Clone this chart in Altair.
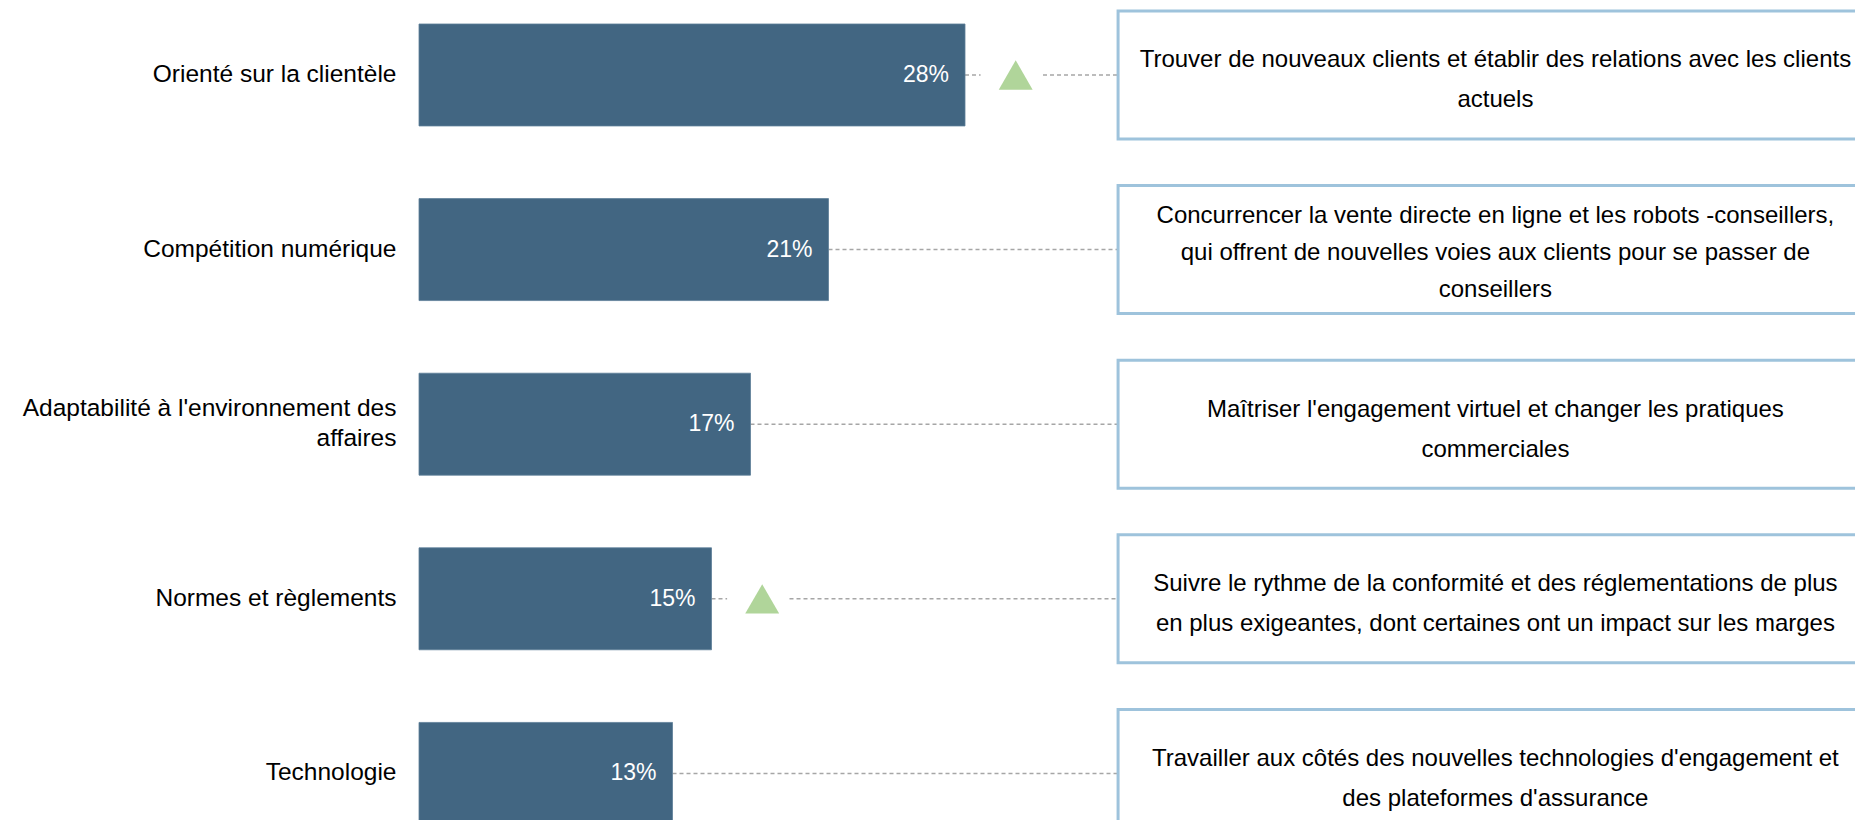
import altair as alt
import pandas as pd

# ---- data ----
categories = [
    "Orienté sur la clientèle",
    "Compétition numérique",
    "Adaptabilité à l'environnement des\naffaires",
    "Normes et règlements",
    "Technologie",
]
values = [28, 21, 17, 15, 13]
trend_up = [True, False, False, True, False]
descriptions = [
    "Trouver de nouveaux clients et établir des relations avec les clients\nactuels",
    "Concurrencer la vente directe en ligne et les robots -conseillers,\nqui offrent de nouvelles voies aux clients pour se passer de\nconseillers",
    "Maîtriser l'engagement virtuel et changer les pratiques\ncommerciales",
    "Suivre le rythme de la conformité et des réglementations de plus\nen plus exigeantes, dont certaines ont un impact sur les marges",
    "Travailler aux côtés des nouvelles technologies d'engagement et\ndes plateformes d'assurance",
]

# ---- layout constants (in x-scale units, percent) ----
PLOT_W = 1436
X_MAX = PLOT_W / 19.5
BOX_LEFT = 35.85
BOX_RIGHT = 80.0
BOX_TEXT_X = 55.2
GAP_START = 0.8
GAP_END = 4.0
TRI_OFFSET = 2.6
BAND_HALF = 51  # half the bar thickness, px

FONT = "Liberation Sans"
BAR_COLOR = "#426682"
TRI_COLOR = "#b0d59a"
BOX_COLOR = "#9ec3dc"
DASH_COLOR = "#a6a6a6"

df = pd.DataFrame({
    "cat": categories,
    "value": values,
    "trend": trend_up,
    "desc": descriptions,
})

seg_rows = []
for c, v, t in zip(categories, values, trend_up):
    if t:
        seg_rows.append({"cat": c, "x0": v, "x1": v + GAP_START})
        seg_rows.append({"cat": c, "x0": v + GAP_END, "x1": BOX_LEFT})
    else:
        seg_rows.append({"cat": c, "x0": v, "x1": BOX_LEFT})
segs = pd.DataFrame(seg_rows)

x_scale = alt.Scale(domain=[0, X_MAX], nice=False, zero=True)
y_scale = alt.Scale(
    type="band",
    domain=categories,
    paddingInner=0.416,
    paddingOuter=0.0916,
    range=[0, 832.4],
)

y_axis = alt.Axis(
    title=None,
    domain=False,
    ticks=False,
    grid=False,
    labelFont=FONT,
    labelFontSize=24.5,
    labelColor="#000000",
    labelPadding=23,
    labelLimit=500,
    labelLineHeight=30,
    labelOffset={"condition": {"test": "indexof(datum.value, '\\n') >= 0", "value": -15}, "value": 0},
    labelExpr="split(datum.label, '\\n')",
)
y_enc = alt.Y("cat:N", scale=y_scale, sort=categories, axis=y_axis)
x_none = dict(scale=x_scale, axis=None)

base = alt.Chart(df)

rules = alt.Chart(segs).mark_rule(
    color=DASH_COLOR, strokeDash=[4, 3], strokeWidth=1.5, clip=True
).encode(
    x=alt.X("x0:Q", **x_none),
    x2="x1:Q",
    y=y_enc,
)

bars = base.mark_bar(color=BAR_COLOR, stroke="#5d7f98", strokeWidth=0.8).encode(
    x=alt.X("value:Q", **x_none),
    y=y_enc,
)

labels = base.transform_calculate(
    lbl="datum.value + '%'"
).mark_text(
    align="right", baseline="middle", dx=-16, color="white",
    font=FONT, fontSize=23,
).encode(
    x=alt.X("value:Q", **x_none),
    y=y_enc,
    text="lbl:N",
)

triangles = base.transform_filter("datum.trend").transform_calculate(
    tx=f"datum.value + {TRI_OFFSET}"
).mark_point(
    shape="triangle-up", filled=True, size=1150, color=TRI_COLOR, opacity=1
).encode(
    x=alt.X("tx:Q", **x_none),
    y=y_enc,
)

boxes = base.mark_bar(
    fill="white", stroke=BOX_COLOR, strokeWidth=3, size=128, clip=True
).encode(
    x=alt.datum(BOX_LEFT, scale=x_scale, axis=None),
    x2=alt.datum(BOX_RIGHT),
    y=y_enc,
)


def box_text_layer(n_lines_test, line_h, shift):
    return base.transform_calculate(
        nl="length(split(datum.desc, '\\n'))"
    ).transform_filter(n_lines_test).transform_calculate(
        off=f"{BAND_HALF} + {shift} - (datum.nl - 1) * {line_h} / 2"
    ).mark_text(
        align="center", baseline="middle", lineBreak="\n", lineHeight=line_h,
        font=FONT, fontSize=24, color="#000000", clip=True,
    ).encode(
        x=alt.datum(BOX_TEXT_X, scale=x_scale, axis=None),
        y=y_enc,
        yOffset=alt.YOffset("off:Q", scale=None),
        text="desc:N",
    )


text_two = box_text_layer("datum.nl <= 2", 40, 5.5)
text_three = box_text_layer("datum.nl > 2", 37, 3)

chart = alt.layer(
    rules, bars, labels, triangles, boxes, text_two, text_three
).properties(
    width=PLOT_W,
    height=812,
    background="white",
    autosize=alt.AutoSizeParams(type="none"),
    padding={"left": 411, "top": 0, "right": 0, "bottom": 0},
).configure_view(
    stroke="transparent", strokeWidth=0
).configure_axis(
    domain=False, ticks=False, grid=False
)

chart.save("out.html", embed_options={"renderer": "svg", "actions": False})
